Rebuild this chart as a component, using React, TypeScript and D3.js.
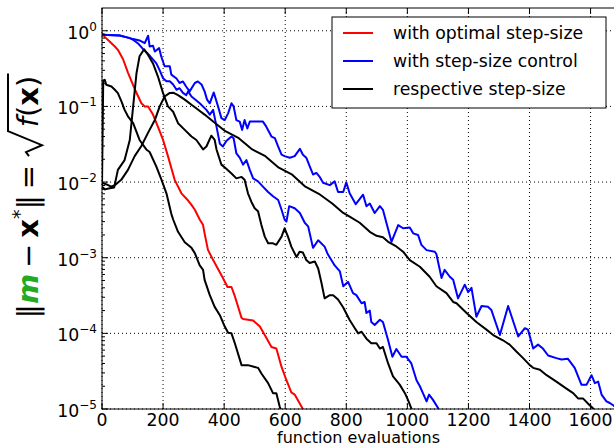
import React, { useLayoutEffect, useRef, useState } from 'react';
import * as d3 from 'd3';

const W = 614;
const H = 443;
const plot = { left: 102, top: 8, right: 615, bottom: 409 };

// tick values
const xTicks = [0, 200, 400, 600, 800, 1000, 1200, 1400, 1600];
const yExponents = [0, -1, -2, -3, -4, -5];

// with optimal step-size (red)
const optimal: [number, number][] = [
  [0, 0.93], [9, 0.83], [25, 0.72], [42, 0.62], [52, 0.56], [69, 0.42], [85, 0.28], [107, 0.17],
  [129, 0.11], [140, 0.1], [151, 0.1], [167, 0.078], [183, 0.054], [200, 0.036], [216, 0.022],
  [238, 0.0107], [260, 0.0071], [282, 0.0057], [293, 0.005], [304, 0.0043], [320, 0.0032],
  [331, 0.0027], [336, 0.0021], [347, 0.00127], [364, 0.00093], [396, 0.00054], [411, 0.00041],
  [424, 0.00041], [435, 0.00031], [457, 0.00016], [462, 0.000155], [495, 0.000148], [506, 0.000135],
  [517, 0.000123], [533, 9.5e-5], [555, 6.6e-5], [571, 6.3e-5], [588, 3.6e-5], [604, 2.4e-5],
  [620, 1.66e-5], [631, 1.55e-5], [659, 9.8e-6], [670, 8e-6],
];

// respective step-size of the optimal run (black)
const optimalStep: [number, number][] = [
  [0, 0.009], [4, 0.22], [9, 0.225], [14, 0.193], [31, 0.183], [42, 0.166], [52, 0.15], [64, 0.116],
  [74, 0.09], [85, 0.074], [102, 0.06], [123, 0.036], [145, 0.027], [156, 0.025], [178, 0.016],
  [195, 0.0107], [211, 0.0071], [227, 0.0038], [233, 0.0032], [249, 0.0022], [271, 0.0016],
  [293, 0.00135], [304, 0.00115], [320, 0.00079], [331, 0.00069], [336, 0.00051], [353, 0.00032],
  [369, 0.000224], [386, 0.000174], [402, 0.000123], [413, 0.000102], [424, 0.0001], [435, 7.4e-5],
  [457, 3.8e-5], [478, 3.8e-5], [500, 3.6e-5], [511, 3.5e-5], [522, 2.95e-5], [544, 2.2e-5],
  [560, 1.62e-5], [571, 1.62e-5], [582, 1.07e-5], [592, 8.5e-6],
];

// with step-size control, faster run (blue)
const controlFast: [number, number][] = [
  [0, 0.885], [58, 0.867], [91, 0.8], [102, 0.76], [118, 0.68], [134, 0.575], [156, 0.47],
  [178, 0.37], [189, 0.3], [200, 0.235], [211, 0.215], [222, 0.215], [233, 0.195], [244, 0.166],
  [254, 0.174], [265, 0.151], [276, 0.141], [282, 0.158], [293, 0.135], [320, 0.11], [342, 0.09],
  [353, 0.078], [364, 0.09], [375, 0.054], [386, 0.032], [396, 0.0295], [407, 0.035], [424, 0.04],
  [431, 0.038], [440, 0.024], [451, 0.021], [462, 0.017], [473, 0.0195], [484, 0.0145],
  [495, 0.0112], [511, 0.0102], [527, 0.0087], [544, 0.0074], [560, 0.0065], [577, 0.0058],
  [588, 0.0043], [598, 0.0032], [604, 0.003], [613, 0.0048], [631, 0.0045], [648, 0.0039],
  [664, 0.0029], [675, 0.0026], [691, 0.00135], [708, 0.0017], [729, 0.0014], [740, 0.0011],
  [762, 0.00079], [779, 0.00066], [790, 0.00042], [806, 0.00048], [822, 0.00034], [833, 0.00032],
  [850, 0.00025], [860, 0.00026], [866, 0.000186], [877, 0.0002], [882, 0.000141], [893, 0.000129],
  [910, 0.000151], [920, 0.000141], [937, 8.1e-5], [951, 4.9e-5], [964, 6.2e-5], [981, 4.9e-5],
  [997, 4.9e-5], [1013, 4.0e-5], [1030, 2.4e-5], [1041, 2.0e-5], [1051, 1.62e-5], [1063, 1.26e-5],
  [1071, 1.55e-5], [1084, 1.32e-5], [1101, 1.02e-5], [1108, 9e-6],
];

// respective step-size of the faster run (black)
const controlFastStep: [number, number][] = [
  [0, 0.0087], [10, 0.008], [25, 0.0083], [40, 0.0085], [52, 0.0145], [74, 0.0195], [91, 0.036],
  [102, 0.1], [113, 0.275], [123, 0.46], [138, 0.57], [151, 0.48], [167, 0.37], [183, 0.25],
  [200, 0.15], [216, 0.1], [233, 0.085], [249, 0.06], [271, 0.049], [293, 0.04], [309, 0.036],
  [331, 0.027], [342, 0.0295], [358, 0.041], [369, 0.036], [375, 0.027], [391, 0.017], [407, 0.015],
  [424, 0.013], [440, 0.0112], [457, 0.0117], [467, 0.0107], [478, 0.0071], [489, 0.0055],
  [500, 0.0045], [511, 0.0041], [522, 0.0027], [533, 0.0019], [544, 0.00155], [560, 0.00155],
  [571, 0.00148], [588, 0.0019], [598, 0.00245], [609, 0.0019], [620, 0.0014], [637, 0.00102],
  [647, 0.0012], [658, 0.00117], [669, 0.00093], [680, 0.00085], [697, 0.00089], [708, 0.00072],
  [719, 0.00046], [729, 0.00029], [746, 0.00032], [757, 0.00032], [773, 0.00028], [790, 0.00022],
  [811, 0.00015], [828, 0.000117], [839, 0.0001], [850, 0.000105], [866, 8.5e-5], [882, 7.4e-5],
  [899, 7.4e-5], [910, 6.3e-5], [920, 6.6e-5], [937, 4.0e-5], [953, 2.7e-5], [975, 2.1e-5],
  [992, 1.62e-5], [1002, 1.32e-5], [1013, 1.02e-5], [1020, 8.5e-6],
];

// with step-size control, slower run (blue)
const controlSlow: [number, number][] = [
  [0, 0.885], [58, 0.867], [91, 0.8], [102, 0.776], [123, 0.745], [140, 0.687], [151, 0.86],
  [156, 0.62], [167, 0.634], [173, 0.533], [187, 0.59], [194, 0.457], [205, 0.34], [222, 0.34],
  [227, 0.263], [244, 0.234], [254, 0.204], [265, 0.214], [276, 0.182], [287, 0.158], [304, 0.204],
  [314, 0.214], [326, 0.195], [336, 0.158], [344, 0.123], [353, 0.11], [366, 0.153], [380, 0.1],
  [391, 0.07], [402, 0.066], [413, 0.081], [424, 0.11], [431, 0.1], [440, 0.066], [451, 0.063],
  [459, 0.049], [467, 0.066], [476, 0.051], [484, 0.063], [527, 0.063], [538, 0.054], [555, 0.04],
  [566, 0.038], [577, 0.0295], [588, 0.023], [598, 0.022], [615, 0.021], [631, 0.022],
  [648, 0.0275], [658, 0.023], [669, 0.021], [680, 0.0162], [691, 0.0126], [702, 0.0132],
  [713, 0.0117], [724, 0.0098], [746, 0.0091], [762, 0.0102], [773, 0.0074], [790, 0.0074],
  [800, 0.0099], [811, 0.0071], [831, 0.0051], [855, 0.0068], [866, 0.0048], [877, 0.0052],
  [893, 0.0039], [910, 0.0048], [920, 0.0043], [948, 0.00162], [970, 0.0027], [986, 0.00245],
  [1008, 0.0025], [1019, 0.0021], [1035, 0.002], [1046, 0.00148], [1063, 0.00126], [1090, 0.0012],
  [1095, 0.00112], [1112, 0.00054], [1122, 0.00069], [1139, 0.00056], [1150, 0.00051],
  [1166, 0.00029], [1188, 0.00044], [1199, 0.00035], [1210, 0.0004], [1226, 0.000166],
  [1243, 0.00023], [1264, 0.000224], [1275, 0.000204], [1303, 9.5e-5], [1330, 0.00023],
  [1363, 9.1e-5], [1385, 0.000117], [1395, 0.000112], [1412, 6.3e-5], [1428, 7.1e-5],
  [1444, 6.3e-5], [1461, 5.1e-5], [1488, 4.7e-5], [1505, 4.5e-5], [1526, 4.6e-5], [1548, 3.5e-5],
  [1570, 2.1e-5], [1587, 2.1e-5], [1603, 2.8e-5], [1614, 2.2e-5], [1625, 2.3e-5], [1636, 1.55e-5],
  [1652, 1.26e-5], [1663, 1.2e-5], [1674, 1.12e-5], [1690, 1.0e-5],
];

// respective step-size of the slower run (black)
const controlSlowStep: [number, number][] = [
  [0, 0.0098], [15, 0.0093], [30, 0.0087], [42, 0.0091], [63, 0.0107], [85, 0.0145], [107, 0.022],
  [129, 0.03], [151, 0.045], [173, 0.066], [189, 0.1], [205, 0.135], [222, 0.151], [233, 0.152],
  [249, 0.141], [271, 0.123], [293, 0.105], [314, 0.091], [336, 0.078], [360, 0.065], [404, 0.047],
  [448, 0.038], [492, 0.027], [535, 0.022], [579, 0.0155], [623, 0.0125], [666, 0.0087],
  [710, 0.007], [754, 0.0052], [790, 0.0039], [811, 0.0035], [844, 0.0029], [877, 0.0022],
  [899, 0.00195], [920, 0.00186], [937, 0.00162], [964, 0.00141], [986, 0.0012], [1008, 0.00093],
  [1041, 0.00076], [1073, 0.00056], [1095, 0.00042], [1128, 0.00034], [1150, 0.00026],
  [1161, 0.00025], [1194, 0.000186], [1226, 0.000141], [1259, 0.000112], [1281, 9.5e-5],
  [1313, 8.1e-5], [1335, 7.1e-5], [1357, 5.75e-5], [1379, 4.7e-5], [1401, 3.8e-5], [1412, 3.5e-5],
  [1434, 3.3e-5], [1456, 2.8e-5], [1488, 2.3e-5], [1521, 1.86e-5], [1543, 1.62e-5],
  [1559, 1.38e-5], [1575, 1.38e-5], [1597, 1.12e-5], [1608, 1.02e-5], [1615, 9e-6],
];

const legendLabels = ['with optimal step-size', 'with step-size control', 'respective step-size'];
const legendColors = ['#ff0000', '#0000ff', '#000000'];

const font = 'DejaVu Sans, sans-serif';

// y label: ||m - x*|| = sqrt(f(x)), the radical is drawn as a path after measuring the text
const YLabel = () => {
  const textRef = useRef<SVGTextElement>(null);
  const [span, setSpan] = useState<[number, number] | null>(null);
  const fs = 29;

  useLayoutEffect(() => {
    const t = textRef.current;
    if (!t) return;
    const n = t.getNumberOfChars();
    // f is 4 chars from the end: f ( x )
    const start = t.getStartPositionOfChar(n - 4).x;
    const end = t.getEndPositionOfChar(n - 1).x;
    setSpan([start, end]);
  }, []);

  let radical = '';
  if (span) {
    const [s, e] = span;
    radical = `M${s - 29},-9 L${s - 25},-12 L${s - 18},4 L${s - 4},-30 L${e + 2},-30`;
  }

  return (
    <g transform="translate(38,197) rotate(-90)">
      <text ref={textRef} textAnchor="middle" fontSize={fs}>
        <tspan>‖</tspan>
        <tspan fill="#22aa22" fontStyle="italic" fontWeight="bold">m</tspan>
        <tspan>{'\u2009\u2212\u2009'}</tspan>
        <tspan fontWeight="bold">x</tspan>
        <tspan fontSize={19} dy={-12}>*</tspan>
        <tspan dy={12}>{'‖\u2009=\u2009'}</tspan>
        <tspan dx={32} fontStyle="italic">f</tspan>
        <tspan>(</tspan>
        <tspan fontWeight="bold">x</tspan>
        <tspan>)</tspan>
      </text>
      <path d={radical} fill="none" stroke="#000" strokeWidth={2} strokeLinejoin="miter" />
    </g>
  );
};

export default function App() {
  const x = d3.scaleLinear().domain([0, 1680]).range([plot.left, plot.right]);
  const y = d3.scaleLog().domain([1e-5, 2]).range([plot.bottom, plot.top]);
  const line = d3
    .line<[number, number]>()
    .x((d) => x(d[0]))
    .y((d) => y(d[1]));

  const series = [
    { data: optimal, color: '#ff0000' },
    { data: optimalStep, color: '#000000' },
    { data: controlFast, color: '#0000ff' },
    { data: controlFastStep, color: '#000000' },
    { data: controlSlow, color: '#0000ff' },
    { data: controlSlowStep, color: '#000000' },
  ];

  // minor ticks on the log axis
  const minor: number[] = [];
  yExponents.forEach((e) => {
    for (let k = 2; k <= 9; k++) {
      const v = k * Math.pow(10, e);
      if (v < 2) minor.push(v);
    }
  });

  return (
    <div style={{ position: 'absolute', left: 0, top: 0 }}>
      <svg width={W} height={H} style={{ display: 'block', background: '#fff' }} fontFamily={font}>
        <defs>
          <clipPath id="plotArea">
            <rect x={plot.left} y={plot.top} width={plot.right - plot.left} height={plot.bottom - plot.top} />
          </clipPath>
        </defs>

        {/* grid */}
        <g stroke="#000" strokeWidth={1} strokeDasharray="1,3">
          {xTicks.map((t) => (
            <line key={'gx' + t} x1={x(t)} x2={x(t)} y1={plot.top} y2={plot.bottom} />
          ))}
          {yExponents.map((e) => (
            <line key={'gy' + e} x1={plot.left} x2={plot.right} y1={y(Math.pow(10, e))} y2={y(Math.pow(10, e))} />
          ))}
        </g>

        {/* data */}
        <g clipPath="url(#plotArea)" fill="none" strokeWidth={2} strokeLinejoin="round">
          {series.map((s, i) => (
            <path key={i} d={line(s.data) || ''} stroke={s.color} />
          ))}
        </g>

        {/* spines */}
        <rect x={plot.left} y={plot.top} width={plot.right - plot.left} height={plot.bottom - plot.top} fill="none" stroke="#000" strokeWidth={1} />

        {/* ticks */}
        <g stroke="#000" strokeWidth={1}>
          {xTicks.map((t) => (
            <g key={'tx' + t}>
              <line x1={x(t)} x2={x(t)} y1={plot.bottom} y2={plot.bottom - 6} />
              <line x1={x(t)} x2={x(t)} y1={plot.top} y2={plot.top + 6} />
            </g>
          ))}
          {yExponents.map((e) => (
            <line key={'ty' + e} x1={plot.left} x2={plot.left + 6} y1={y(Math.pow(10, e))} y2={y(Math.pow(10, e))} />
          ))}
          {minor.map((v) => (
            <line key={'tm' + v} x1={plot.left} x2={plot.left + 3} y1={y(v)} y2={y(v)} />
          ))}
        </g>

        {/* tick labels */}
        <g fontSize={17.3} fill="#000">
          {xTicks.map((t) => (
            <text key={'lx' + t} x={x(t)} y={426} textAnchor="middle">
              {t}
            </text>
          ))}
          {yExponents.map((e) => (
            <text key={'ly' + e} x={97} y={y(Math.pow(10, e)) + 8} textAnchor="end">
              10
              <tspan fontSize={12} dy={-8}>
                {e === 0 ? '0' : '\u2212' + Math.abs(e)}
              </tspan>
            </text>
          ))}
        </g>

        {/* axis labels */}
        <text x={(plot.left + plot.right) / 2} y={443} textAnchor="middle" fontSize={16}>
          function evaluations
        </text>
        <YLabel />

        {/* legend */}
        <g>
          <rect x={332} y={17} width={274} height={91} fill="#fff" stroke="#000" strokeWidth={1} />
          {legendLabels.map((l, i) => (
            <g key={l}>
              <line x1={343} x2={373} y1={33 + i * 28} y2={33 + i * 28} stroke={legendColors[i]} strokeWidth={2} />
              <text x={393} y={39 + i * 28} fontSize={17.3}>
                {l}
              </text>
            </g>
          ))}
        </g>
      </svg>
    </div>
  );
}
